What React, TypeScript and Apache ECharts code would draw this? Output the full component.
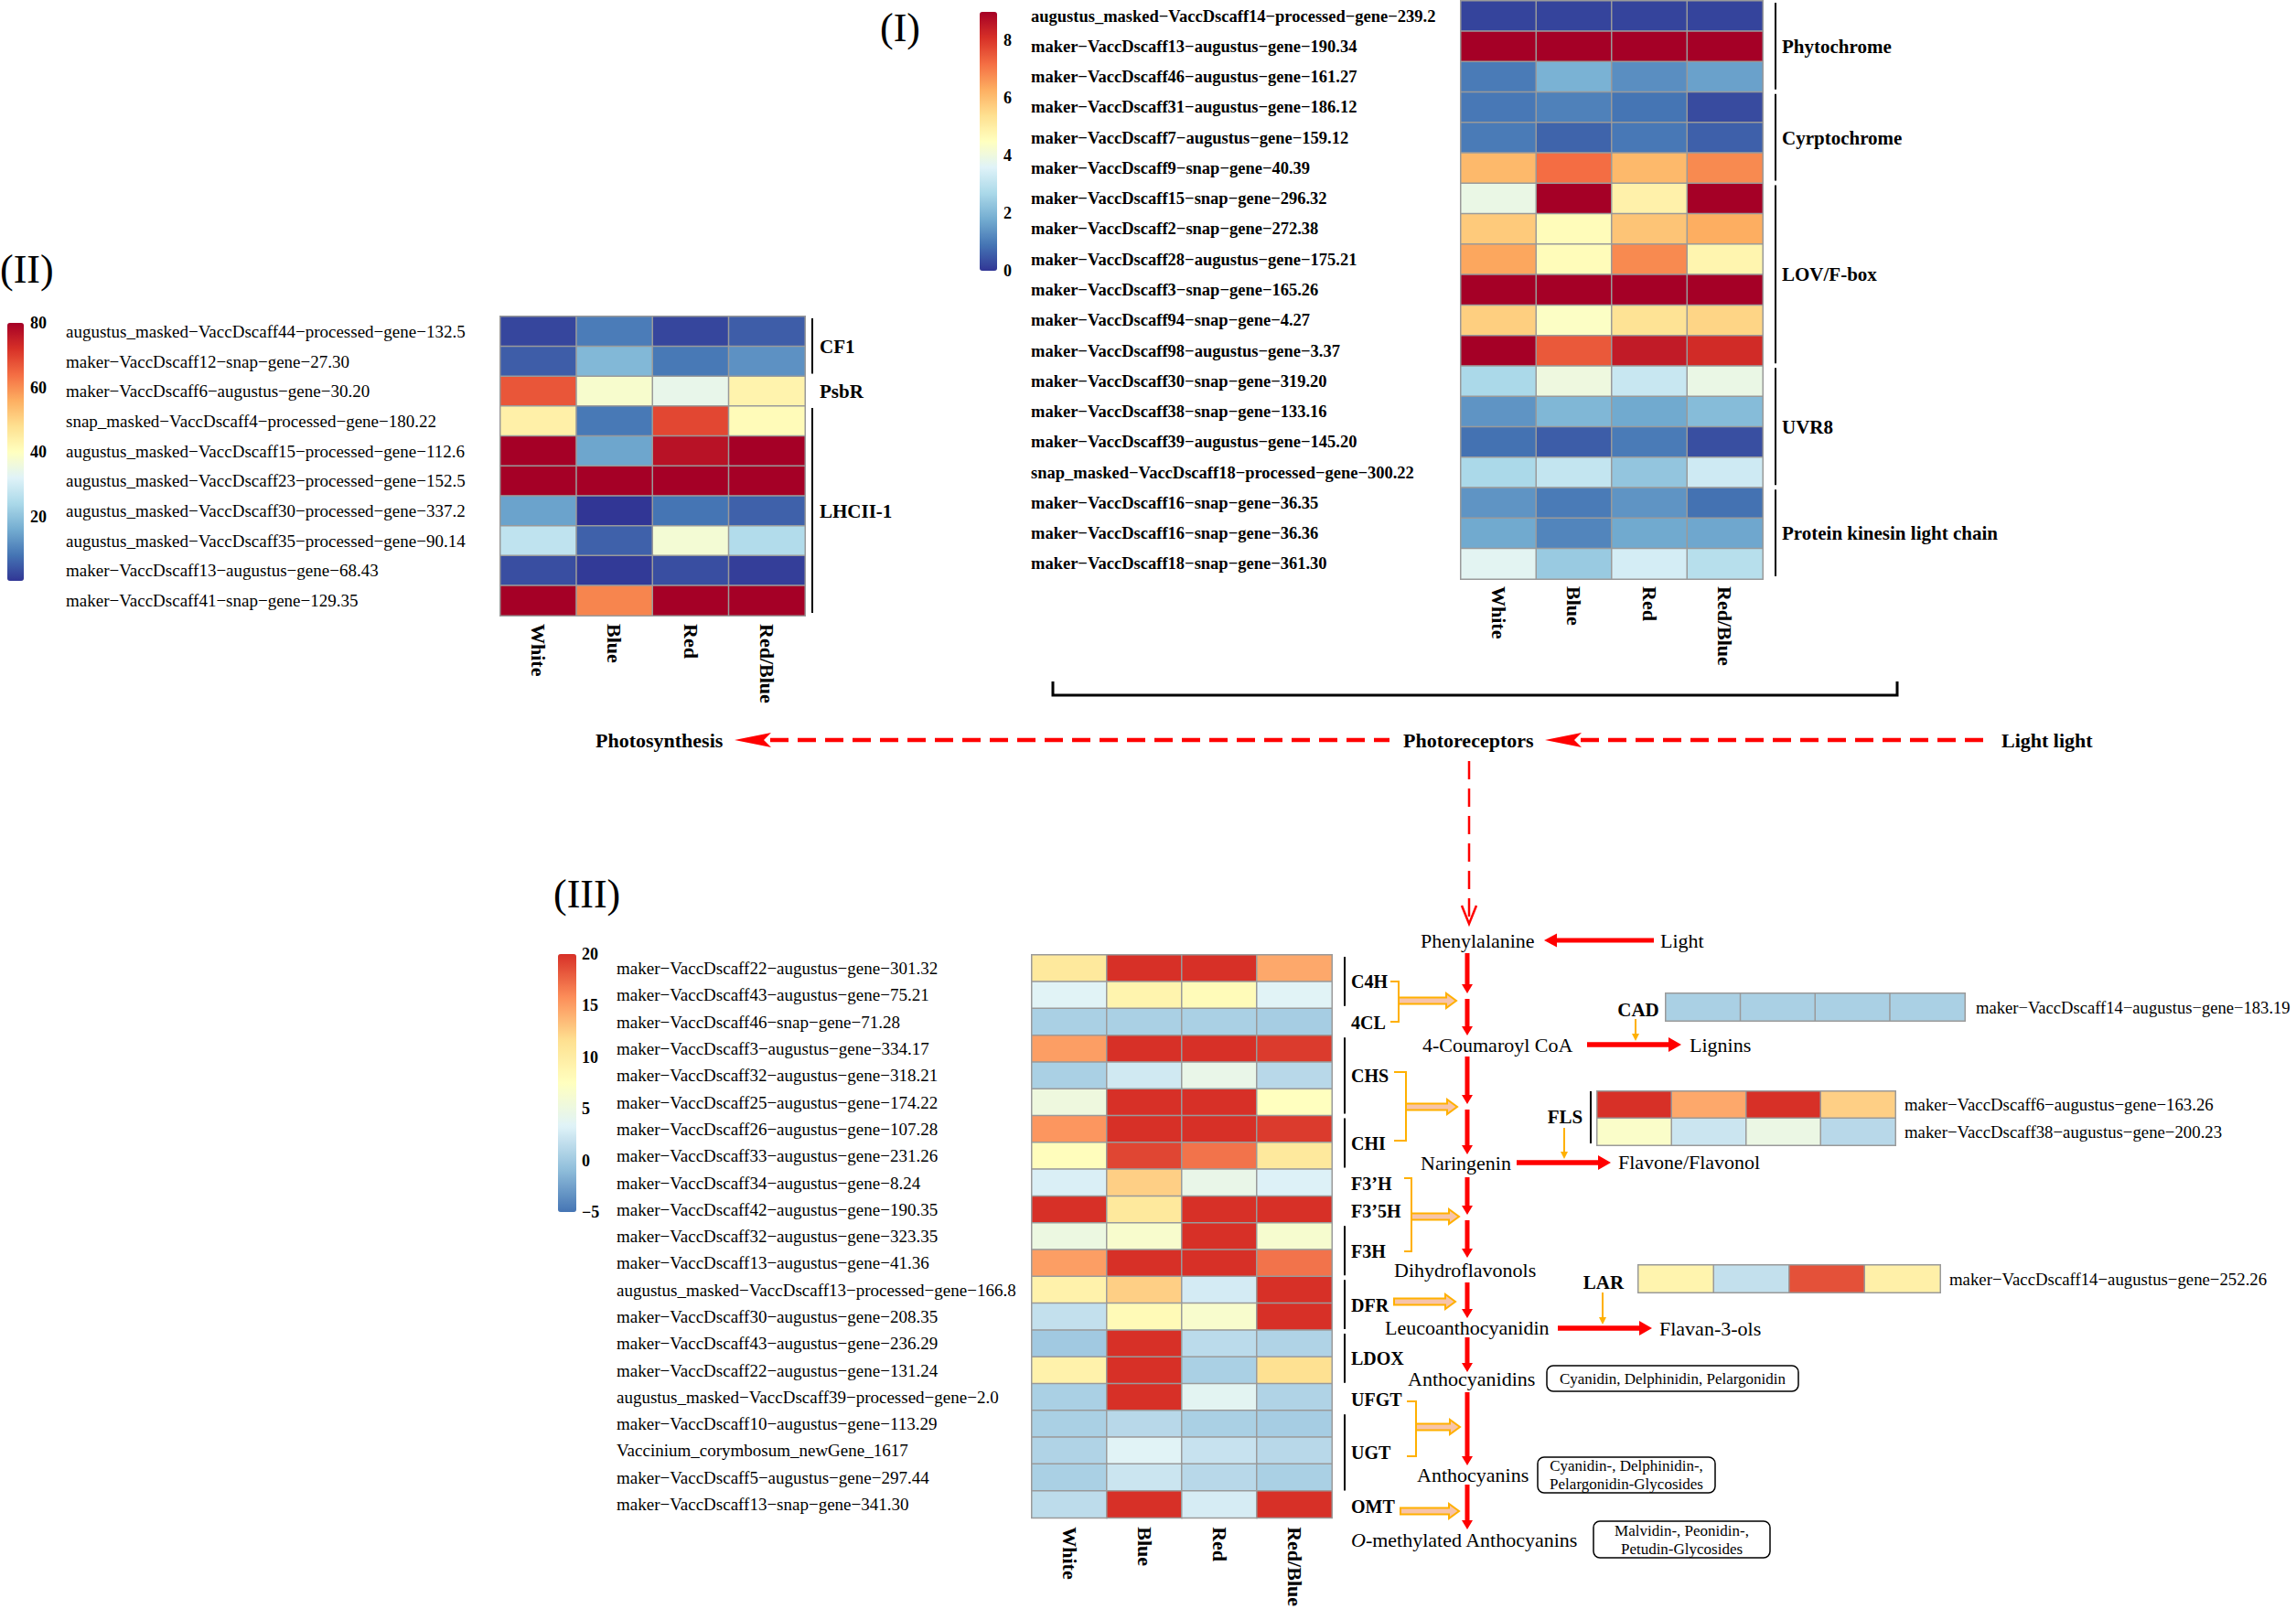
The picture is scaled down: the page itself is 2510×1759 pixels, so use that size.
import React, { useEffect, useRef } from "react";
import * as echarts from "echarts";

const FONT = '"Liberation Serif", "Times New Roman", serif';

// ---------------- data ----------------
const conditions = ["White", "Blue", "Red", "Red/Blue"];

const photoreceptorGenes = [
  "augustus_masked−VaccDscaff14−processed−gene−239.2",
  "maker−VaccDscaff13−augustus−gene−190.34",
  "maker−VaccDscaff46−augustus−gene−161.27",
  "maker−VaccDscaff31−augustus−gene−186.12",
  "maker−VaccDscaff7−augustus−gene−159.12",
  "maker−VaccDscaff9−snap−gene−40.39",
  "maker−VaccDscaff15−snap−gene−296.32",
  "maker−VaccDscaff2−snap−gene−272.38",
  "maker−VaccDscaff28−augustus−gene−175.21",
  "maker−VaccDscaff3−snap−gene−165.26",
  "maker−VaccDscaff94−snap−gene−4.27",
  "maker−VaccDscaff98−augustus−gene−3.37",
  "maker−VaccDscaff30−snap−gene−319.20",
  "maker−VaccDscaff38−snap−gene−133.16",
  "maker−VaccDscaff39−augustus−gene−145.20",
  "snap_masked−VaccDscaff18−processed−gene−300.22",
  "maker−VaccDscaff16−snap−gene−36.35",
  "maker−VaccDscaff16−snap−gene−36.36",
  "maker−VaccDscaff18−snap−gene−361.30",
];
const photoreceptorValues = [
  [0.2, 0.2, 0.2, 0.2],
  [9, 9, 9, 9],
  [1.0, 1.9, 1.3, 1.6],
  [0.95, 1.1, 0.9, 0.3],
  [1.0, 0.65, 0.95, 0.6],
  [6.1, 7.2, 6.1, 6.8],
  [3.9, 9, 4.9, 9],
  [5.8, 4.6, 5.9, 6.3],
  [6.4, 4.6, 6.8, 4.8],
  [9, 9, 9, 9],
  [5.7, 4.4, 5.3, 5.6],
  [9, 7.5, 8.5, 8.2],
  [2.7, 4.0, 3.2, 3.9],
  [1.4, 2.0, 1.75, 2.1],
  [0.85, 0.55, 1.0, 0.35],
  [2.7, 3.1, 2.3, 3.3],
  [1.4, 1.0, 1.4, 0.85],
  [1.75, 1.15, 1.75, 1.7],
  [3.7, 2.4, 3.4, 2.9],
];
const photoreceptorGroups = [
  { name: "Phytochrome", from: 0, to: 2 },
  { name: "Cyrptochrome", from: 3, to: 5 },
  { name: "LOV/F-box", from: 6, to: 11 },
  { name: "UVR8", from: 12, to: 15 },
  { name: "Protein kinesin light chain", from: 16, to: 18 },
];

const photosynthesisGenes = [
  "augustus_masked−VaccDscaff44−processed−gene−132.5",
  "maker−VaccDscaff12−snap−gene−27.30",
  "maker−VaccDscaff6−augustus−gene−30.20",
  "snap_masked−VaccDscaff4−processed−gene−180.22",
  "augustus_masked−VaccDscaff15−processed−gene−112.6",
  "augustus_masked−VaccDscaff23−processed−gene−152.5",
  "augustus_masked−VaccDscaff30−processed−gene−337.2",
  "augustus_masked−VaccDscaff35−processed−gene−90.14",
  "maker−VaccDscaff13−augustus−gene−68.43",
  "maker−VaccDscaff41−snap−gene−129.35",
];
const photosynthesisValues = [
  [2, 9, 2, 5],
  [5, 18, 8.5, 12],
  [67, 38, 34, 43],
  [44, 8.5, 69, 41],
  [80, 15, 77, 80],
  [80, 80, 80, 80],
  [14.5, 0, 8, 5.5],
  [27, 5.5, 37, 25],
  [3, 0.5, 3, 1],
  [80, 61, 80, 80],
];
const photosynthesisGroups = [
  { name: "CF1", from: 0, to: 1 },
  { name: "PsbR", from: 2, to: 2 },
  { name: "LHCII-1", from: 3, to: 9 },
];

const flavonoidGenes = [
  "maker−VaccDscaff22−augustus−gene−301.32",
  "maker−VaccDscaff43−augustus−gene−75.21",
  "maker−VaccDscaff46−snap−gene−71.28",
  "maker−VaccDscaff3−augustus−gene−334.17",
  "maker−VaccDscaff32−augustus−gene−318.21",
  "maker−VaccDscaff25−augustus−gene−174.22",
  "maker−VaccDscaff26−augustus−gene−107.28",
  "maker−VaccDscaff33−augustus−gene−231.26",
  "maker−VaccDscaff34−augustus−gene−8.24",
  "maker−VaccDscaff42−augustus−gene−190.35",
  "maker−VaccDscaff32−augustus−gene−323.35",
  "maker−VaccDscaff13−augustus−gene−41.36",
  "augustus_masked−VaccDscaff13−processed−gene−166.8",
  "maker−VaccDscaff30−augustus−gene−208.35",
  "maker−VaccDscaff43−augustus−gene−236.29",
  "maker−VaccDscaff22−augustus−gene−131.24",
  "augustus_masked−VaccDscaff39−processed−gene−2.0",
  "maker−VaccDscaff10−augustus−gene−113.29",
  "Vaccinium_corymbosum_newGene_1617",
  "maker−VaccDscaff5−augustus−gene−297.44",
  "maker−VaccDscaff13−snap−gene−341.30",
];
const flavonoidValues = [
  [10.5, 20, 20, 14.5],
  [3.5, 9, 8, 3.5],
  [0.5, 0.5, 0.5, 0.3],
  [15, 20, 20, 19.5],
  [0.5, 2.5, 4.5, 1.2],
  [5.2, 20, 20, 7.5],
  [15.4, 20, 20, 19.5],
  [7.8, 19, 17, 10.5],
  [3, 12.5, 4.5, 3.2],
  [20, 10.5, 20, 20],
  [5, 6.5, 20, 6.3],
  [15, 20, 20, 17],
  [9.3, 12.5, 2.7, 20],
  [1.8, 8.2, 6.5, 20],
  [0, 20, 1.4, 0.8],
  [9.3, 20, 0.5, 11.5],
  [0.5, 20, 3.8, 0.8],
  [0.5, 1.2, 0.5, 0.3],
  [0.8, 3.5, 2, 1.2],
  [0.5, 2.2, 1.2, 0.5],
  [1.5, 20, 2.8, 20],
];
const flavonoidGroups = [
  { name: "C4H", from: 0, to: 1 },
  { name: "4CL", from: 2, to: 2 },
  { name: "CHS", from: 3, to: 5 },
  { name: "CHI", from: 6, to: 7 },
  { name: "F3’H", from: 8, to: 8 },
  { name: "F3’5H", from: 9, to: 9 },
  { name: "F3H", from: 10, to: 11 },
  { name: "DFR", from: 12, to: 13 },
  { name: "LDOX", from: 14, to: 15 },
  { name: "UFGT", from: 16, to: 16 },
  { name: "UGT", from: 17, to: 19 },
  { name: "OMT", from: 20, to: 20 },
];

const cadGenes = ["maker−VaccDscaff14−augustus−gene−183.19"];
const cadValues = [[0.5, 0.5, 0.5, 0.5]];
const flsGenes = [
  "maker−VaccDscaff6−augustus−gene−163.26",
  "maker−VaccDscaff38−augustus−gene−200.23",
];
const flsValues = [
  [20, 14.5, 20, 12.5],
  [6.8, 2.2, 4.8, 1.2],
];
const larGenes = ["maker−VaccDscaff14−augustus−gene−252.26"];
const larValues = [[9, 1.8, 18.5, 9.5]];

const legendPhotoreceptor = { min: 0, max: 9, step: 2 };
const legendPhotosynthesis = { min: 0, max: 80, step: 20 };
const legendFlavonoid = { min: -5, max: 20, step: 5 };

const PAL11 = ["#313695", "#4575b4", "#74add1", "#abd9e9", "#e0f3f8", "#ffffbf", "#fee090", "#fdae61", "#f46d43", "#d73027", "#a50026"];
const PAL7 = ["#4575b4", "#91bfdb", "#e0f3f8", "#ffffbf", "#fee090", "#fc8d59", "#d73027"];

// ---------------- helpers ----------------
const RED = "#ff0000";
const ORANGE = "#ffb000";
const PINK = "#f7c4aa";

function txt(text: string, x: number, y: number, size: number, opts: any = {}) {
  const align = opts.align || "left";
  return {
    type: "text",
    x,
    y,
    silent: true,
    style: {
      text,
      fontSize: size,
      fontFamily: FONT,
      fontWeight: opts.bold ? "bold" : "normal",
      fontStyle: opts.italic ? "italic" : "normal",
      fill: "#000",
      align,
      textAlign: align,
      verticalAlign: "middle",
      textVerticalAlign: "middle",
      lineHeight: opts.lineHeight,
      rich: opts.rich,
    },
  };
}

function ln(x1: number, y1: number, x2: number, y2: number, color: string, lw: number, dash?: number[]) {
  return {
    type: "line",
    silent: true,
    shape: { x1, y1, x2, y2 },
    style: { stroke: color, lineWidth: lw, lineDash: dash },
  };
}

function poly(points: number[][], color: string, lw: number) {
  return { type: "polyline", silent: true, shape: { points }, style: { stroke: color, lineWidth: lw, fill: null } };
}

function arrow(x1: number, y1: number, x2: number, y2: number, color: string, lw: number, hl: number, hw: number) {
  const dx = x2 - x1, dy = y2 - y1;
  const L = Math.hypot(dx, dy);
  const ux = dx / L, uy = dy / L;
  const bx = x2 - ux * hl, by = y2 - uy * hl;
  const px = -uy, py = ux;
  return [
    ln(x1, y1, bx + ux * 1, by + uy * 1, color, lw),
    {
      type: "polygon",
      silent: true,
      shape: { points: [[x2, y2], [bx + px * hw, by + py * hw], [bx - px * hw, by - py * hw]] },
      style: { fill: color },
    },
  ];
}

function blockArrow(x1: number, x2: number, y: number) {
  const sh = 3.5, hh = 8, hl = 11;
  return {
    type: "polygon",
    silent: true,
    shape: {
      points: [
        [x1, y - sh], [x2 - hl, y - sh], [x2 - hl, y - hh], [x2, y],
        [x2 - hl, y + hh], [x2 - hl, y + sh], [x1, y + sh],
      ],
    },
    style: { fill: PINK, stroke: ORANGE, lineWidth: 2, lineJoin: "miter" },
  };
}

function barbHead(tipX: number, y: number, dir: number) {
  // filled barbed head, dir = -1 points left
  const back = tipX - dir * 40;
  const notch = tipX - dir * 32;
  return {
    type: "polygon",
    silent: true,
    shape: { points: [[tipX, y], [back, y - 8], [notch, y], [back, y + 8]] },
    style: { fill: RED },
  };
}

function roundBox(x: number, y: number, w: number, h: number) {
  return {
    type: "rect",
    silent: true,
    shape: { x, y, width: w, height: h, r: 7 },
    style: { fill: "#fff", stroke: "#000", lineWidth: 1.5 },
  };
}

function cells(values: number[][]) {
  const out: number[][] = [];
  values.forEach((row, r) => row.forEach((v, c) => out.push([c, r, v])));
  return out;
}

function groupMarks(grid: any, n: number, groups: any[], lineX: number, labelX: number, size: number) {
  const rh = grid.height / n;
  const els: any[] = [];
  groups.forEach((g) => {
    const y0 = grid.top + g.from * rh;
    const y1 = grid.top + (g.to + 1) * rh;
    if (g.to > g.from) els.push(ln(lineX, y0 + 2, lineX, y1 - 3, "#000", 2));
    els.push(txt(g.name, labelX, (y0 + y1) / 2, size, { bold: true }));
  });
  return els;
}

// ---------------- layout ----------------
const panels = [
  { genes: photoreceptorGenes, values: photoreceptorValues, grid: { left: 1597, top: 1, width: 330, height: 632 }, side: "left", labelX: 1127, size: 18.5, bold: true, cols: true, colMargin: 8 },
  { genes: photosynthesisGenes, values: photosynthesisValues, grid: { left: 547, top: 346, width: 333, height: 327 }, side: "left", labelX: 72, size: 19, bold: false, cols: true, colMargin: 9 },
  { genes: flavonoidGenes, values: flavonoidValues, grid: { left: 1128, top: 1044, width: 328, height: 618 }, side: "left", labelX: 674, size: 19, bold: false, cols: true, colMargin: 10 },
  { genes: cadGenes, values: cadValues, grid: { left: 1821, top: 1086, width: 327, height: 30 }, side: "right", gap: 12, size: 18.6, bold: false, cols: false },
  { genes: flsGenes, values: flsValues, grid: { left: 1746, top: 1193, width: 326, height: 59 }, side: "right", gap: 10, size: 18.8, bold: false, cols: false },
  { genes: larGenes, values: larValues, grid: { left: 1791, top: 1383, width: 330, height: 30 }, side: "right", gap: 10, size: 18.8, bold: false, cols: false },
];

const colorbars = [
  { legend: legendPhotoreceptor, box: { left: 1071, top: 13, width: 19, height: 283 }, palette: PAL11, series: [0], margin: 7, showMin: true, showMax: false },
  { legend: legendPhotosynthesis, box: { left: 8, top: 353, width: 18, height: 282 }, palette: PAL11, series: [1], margin: 7, showMin: false, showMax: true },
  { legend: legendFlavonoid, box: { left: 610, top: 1043, width: 20, height: 282 }, palette: PAL7, series: [2, 3, 4, 5], margin: 6, showMin: true, showMax: true },
];

function buildOption() {
  const grid: any[] = [];
  const xAxis: any[] = [];
  const yAxis: any[] = [];
  const series: any[] = [];

  panels.forEach((p, i) => {
    grid.push({ ...p.grid, containLabel: false });
    xAxis.push({
      type: "category",
      gridIndex: i,
      data: conditions,
      axisLine: { show: false },
      axisTick: { show: false },
      splitLine: { show: false },
      axisLabel: {
        show: p.cols,
        interval: 0,
        rotate: -90,
        margin: p.colMargin || 8,
        fontFamily: FONT,
        fontWeight: "bold",
        fontSize: 22,
        color: "#000",
      },
    });
    yAxis.push({
      type: "category",
      gridIndex: i,
      data: p.genes,
      inverse: true,
      position: p.side,
      axisLine: { show: false },
      axisTick: { show: false },
      splitLine: { show: false },
      axisLabel: {
        interval: 0,
        align: "left",
        margin: p.side === "left" ? p.grid.left - (p.labelX as number) : p.gap,
        fontFamily: FONT,
        fontSize: p.size,
        fontWeight: p.bold ? "bold" : "normal",
        color: "#000",
      },
    });
    series.push({
      type: "heatmap",
      xAxisIndex: i,
      yAxisIndex: i,
      data: cells(p.values),
      itemStyle: { borderColor: "#9a9a9a", borderWidth: 1.5 },
      emphasis: { disabled: true },
      silent: true,
      progressive: 0,
    });
  });

  const visualMap: any[] = [];
  colorbars.forEach((cb, k) => {
    const gi = panels.length + k;
    grid.push({ ...cb.box });
    xAxis.push({ type: "value", gridIndex: gi, show: false, min: 0, max: 1 });
    yAxis.push({
      type: "value",
      gridIndex: gi,
      min: cb.legend.min,
      max: cb.legend.max,
      interval: cb.legend.step,
      position: "right",
      axisLine: { show: false },
      axisTick: { show: false },
      splitLine: { show: false },
      axisLabel: {
        margin: cb.margin,
        showMinLabel: cb.showMin,
        showMaxLabel: cb.showMax,
        fontFamily: FONT,
        fontWeight: "bold",
        fontSize: 18,
        color: "#000",
        formatter: (v: number) => String(v).replace("-", "−"),
      },
    });
    visualMap.push({
      type: "continuous",
      seriesIndex: cb.series,
      min: cb.legend.min,
      max: cb.legend.max,
      left: cb.box.left,
      top: cb.box.top,
      itemWidth: cb.box.width,
      itemHeight: cb.box.height,
      padding: 0,
      calculable: false,
      hoverLink: false,
      inRange: { color: cb.palette },
    });
  });

  const g: any[] = [];
  // panel labels
  g.push(txt("(I)", 962, 30, 44));
  g.push(txt("(II)", 0, 294, 44));
  g.push(txt("(III)", 605, 977, 44));

  // group annotations
  g.push(...groupMarks(panels[0].grid, photoreceptorGenes.length, photoreceptorGroups, 1941, 1948, 21));
  g.push(...groupMarks(panels[1].grid, photosynthesisGenes.length, photosynthesisGroups, 888, 896, 21));
  g.push(...groupMarks(panels[2].grid, flavonoidGenes.length, flavonoidGroups, 1470, 1477, 20));

  // bracket under panel I
  g.push(poly([[1151, 745], [1151, 760], [2074, 760], [2074, 745]], "#000", 3));

  // light signalling row
  const yR = 809;
  g.push(txt("Photosynthesis", 651, yR, 22, { bold: true }));
  g.push(barbHead(803, yR, -1));
  g.push(ln(842, yR, 1519, yR, RED, 4.5, [20, 10]));
  g.push(txt("Photoreceptors", 1534, yR, 22, { bold: true }));
  g.push(barbHead(1689, yR, -1));
  g.push(ln(1728, yR, 2178, yR, RED, 4.5, [20, 10]));
  g.push(txt("Light light", 2188, yR, 22, { bold: true }));
  // vertical dashed arrow
  g.push(ln(1606, 832, 1606, 1005, RED, 2.5, [20, 10]));
  g.push(poly([[1598, 990], [1606, 1010], [1614, 990]], RED, 2.5));

  // pathway spine
  const sx = 1604;
  const spine = [
    [1042, 1086], [1092, 1132],
    [1155, 1207], [1213, 1262],
    [1287, 1328], [1334, 1375],
    [1402, 1441],
    [1462, 1500],
    [1522, 1602],
    [1623, 1672],
  ];
  spine.forEach(([a, b]) => g.push(...arrow(sx, a, sx, b, RED, 5, 10, 6)));

  // compounds
  g.push(txt("Phenylalanine", 1553, 1028, 22));
  g.push(txt("Light", 1815, 1028, 22));
  g.push(...arrow(1808, 1028, 1688, 1028, RED, 5, 14, 7.5));
  g.push(txt("4-Coumaroyl CoA", 1555, 1142, 22));
  g.push(...arrow(1735, 1142, 1838, 1142, RED, 5.5, 14, 8));
  g.push(txt("Lignins", 1847, 1142, 22));
  g.push(txt("Naringenin", 1553, 1271, 22));
  g.push(...arrow(1658, 1271, 1761, 1271, RED, 5.5, 14, 8));
  g.push(txt("Flavone/Flavonol", 1769, 1270, 22));
  g.push(txt("Dihydroflavonols", 1524, 1388, 22));
  g.push(txt("Leucoanthocyanidin", 1514, 1451, 22));
  g.push(...arrow(1703, 1452, 1806, 1452, RED, 5.5, 14, 8));
  g.push(txt("Flavan-3-ols", 1814, 1452, 22));
  g.push(txt("Anthocyanidins", 1539, 1507, 22));
  g.push(txt("Anthocyanins", 1549, 1612, 22));
  g.push(
    txt("{i|O}-methylated Anthocyanins", 1477, 1683, 22, {
      rich: { i: { fontStyle: "italic", fontSize: 22, fontFamily: FONT, fill: "#000" } },
    })
  );

  // boxes
  g.push(roundBox(1691, 1493, 275, 28));
  g.push(txt("Cyanidin, Delphinidin, Pelargonidin", 1828.5, 1507, 17, { align: "center" }));
  g.push(roundBox(1681, 1593, 194, 39));
  g.push(txt("Cyanidin-, Delphinidin-,\nPelargonidin-Glycosides", 1778, 1612.5, 17, { align: "center", lineHeight: 20 }));
  g.push(roundBox(1742, 1663, 193, 40));
  g.push(txt("Malvidin-, Peonidin-,\nPetudin-Glycosides", 1838.5, 1683, 17, { align: "center", lineHeight: 20 }));

  // orange brackets and block arrows
  g.push(poly([[1520, 1073], [1529, 1073], [1529, 1117], [1520, 1117]], ORANGE, 2));
  g.push(blockArrow(1529, 1592, 1094));
  g.push(poly([[1524, 1172], [1537, 1172], [1537, 1247], [1524, 1247]], ORANGE, 2));
  g.push(blockArrow(1537, 1593, 1210));
  g.push(poly([[1535, 1288], [1543, 1288], [1543, 1368], [1535, 1368]], ORANGE, 2));
  g.push(blockArrow(1543, 1595, 1330));
  g.push(blockArrow(1524, 1591, 1423));
  g.push(poly([[1538, 1532], [1548, 1532], [1548, 1592], [1538, 1592]], ORANGE, 2));
  g.push(blockArrow(1548, 1596, 1560));
  g.push(blockArrow(1531, 1595, 1652));

  // branch enzymes
  g.push(txt("CAD", 1791, 1104, 21, { bold: true, align: "center" }));
  g.push(...arrow(1788, 1114, 1788, 1138, ORANGE, 2, 8, 4));
  g.push(txt("FLS", 1711, 1221, 21, { bold: true, align: "center" }));
  g.push(...arrow(1710, 1233, 1710, 1267, ORANGE, 2, 8, 4));
  g.push(ln(1739, 1193, 1739, 1250, "#000", 2));
  g.push(txt("LAR", 1753, 1402, 21, { bold: true, align: "center" }));
  g.push(...arrow(1752, 1413, 1752, 1448, ORANGE, 2, 8, 4));

  return {
    animation: false,
    backgroundColor: "#ffffff",
    grid,
    xAxis,
    yAxis,
    visualMap,
    series,
    graphic: { elements: g },
  };
}

export default function App() {
  const ref = useRef<HTMLDivElement>(null);
  useEffect(() => {
    if (!ref.current) return;
    const chart = echarts.init(ref.current, null, { renderer: "svg" });
    chart.setOption(buildOption() as any);
    return () => chart.dispose();
  }, []);
  return (
    <div
      ref={ref}
      style={{ position: "fixed", left: 0, top: 0, width: 2510, height: 1759, background: "#fff" }}
    />
  );
}
